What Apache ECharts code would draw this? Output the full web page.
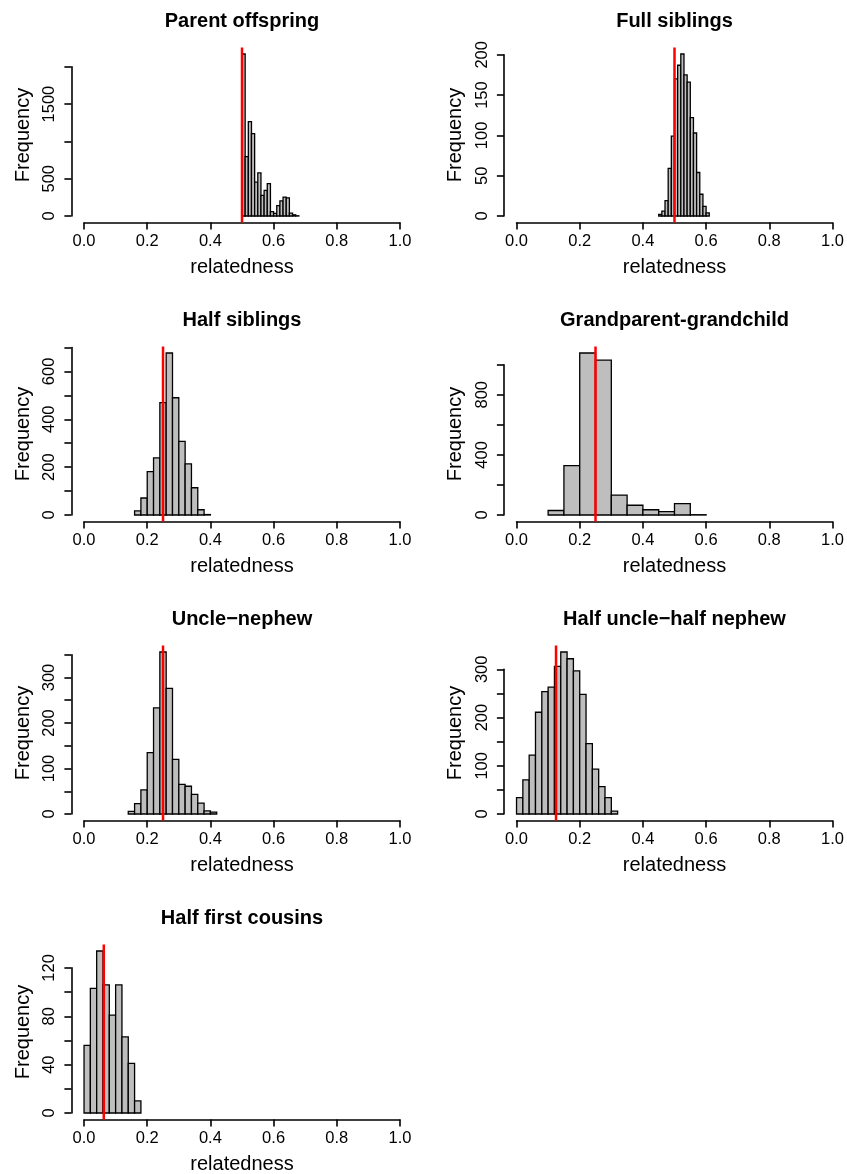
<!DOCTYPE html>
<html>
<head>
<meta charset="utf-8">
<script src="https://cdn.jsdelivr.net/npm/echarts@6/dist/echarts.min.js"></script>
<style>
  html, body { margin: 0; padding: 0; background: #ffffff; }
  #chart { width: 847px; height: 1174px; }
</style>
</head>
<body>
<div id="chart"></div>
<script>
// Simulated relatedness distributions per relationship class
const panelTitles = [
  'Parent offspring', 'Full siblings', 'Half siblings', 'Grandparent-grandchild',
  'Uncle\u2212nephew', 'Half uncle\u2212half nephew', 'Half first cousins'
];
const binStarts = [0.50, 0.45, 0.16, 0.10, 0.14, 0.00, 0.00];
const binWidths = [0.01, 0.01, 0.02, 0.05, 0.02, 0.02, 0.02];

const countsParentOffspring = [2172, 797, 1266, 1105, 453, 578, 277, 344, 433, 58, 36, 140, 204, 254, 243, 38, 16, 3];
const countsFullSiblings = [2, 6, 19, 59, 99, 170, 187, 201, 175, 166, 122, 103, 54, 27, 12, 4];
const countsHalfSiblings = [17, 71, 181, 239, 470, 677, 490, 308, 214, 114, 22, 2];
const countsGrandparent = [30, 329, 1078, 1030, 133, 65, 35, 23, 76, 2];
const countsUncleNephew = [6, 23, 53, 135, 233, 356, 276, 120, 65, 61, 43, 24, 7, 4];
const countsHalfUncle = [34, 71, 122, 211, 254, 263, 306, 336, 322, 297, 248, 146, 93, 57, 34, 6];
const countsHalfFirstCousins = [56, 103, 134, 106, 81, 106, 63, 41, 10];

// Expected relatedness for each class (vertical reference line)
const expectedRelatedness = [0.5, 0.5, 0.25, 0.25, 0.25, 0.125, 0.0625];

const xTickLabels = ['0.0', '0.2', '0.4', '0.6', '0.8', '1.0'];
const yTickSteps = [500, 50, 100, 200, 50, 50, 20];
const yTickMaxes = [2000, 200, 700, 1000, 350, 300, 120];
const yTickLabels = [
  [0, 500, 1500], [0, 50, 100, 150, 200], [0, 200, 400, 600], [0, 400, 800],
  [0, 100, 200, 300], [0, 100, 200, 300], [0, 40, 80, 120]
];

const allCounts = [countsParentOffspring, countsFullSiblings, countsHalfSiblings, countsGrandparent,
  countsUncleNephew, countsHalfUncle, countsHalfFirstCousins];

// layout of the 2-column panel grid
const FONT = 'Liberation Sans, Arial, Helvetica, sans-serif';
const colLeft = [71.4, 503.9];
const plotW = 341.2;
const firstTop = 47.5;
const rowStep = 299;
const plotH = 175;
const axisColor = '#000000';
const axisWidth = 1.6;

const grids = [], xAxes = [], yAxes = [], series = [], graphics = [];

allCounts.forEach(function (counts, i) {
  const col = i % 2, row = Math.floor(i / 2);
  const left = colLeft[col];
  const top = firstTop + row * rowStep;
  const m = Math.max.apply(null, counts);
  const ppu = plotH / (1.08 * m);
  const y0 = top + plotH - 0.04 * m * ppu;
  const yAxisTop = y0 - yTickMaxes[i] * ppu;

  const g0 = grids.length;
  // plotting region (x: -0.04..1.04, y: -4%..104% of max count)
  grids.push({ left: left, top: top, width: plotW, height: plotH, outerBoundsMode: 'none', containLabel: false });
  // x axis drawn over 0..1 only
  grids.push({ left: left + plotW * 0.04 / 1.08, top: top, width: plotW / 1.08, height: plotH, outerBoundsMode: 'none', containLabel: false });
  // y axis drawn over 0..last tick only
  grids.push({ left: left, top: yAxisTop, width: plotW, height: y0 - yAxisTop, outerBoundsMode: 'none', containLabel: false });

  const nameStyle = { fontSize: 20, color: '#000', fontFamily: FONT };
  const labelStyle = { fontSize: 16.5, color: '#000', fontFamily: FONT };

  xAxes.push({
    gridIndex: g0, type: 'value', min: -0.04, max: 1.04,
    axisLine: { show: false }, axisTick: { show: false }, axisLabel: { show: false }, splitLine: { show: false },
    name: 'relatedness', nameLocation: 'middle', nameGap: 35, nameTextStyle: nameStyle
  });
  xAxes.push({
    gridIndex: g0 + 1, type: 'value', min: 0, max: 1, interval: 0.2,
    axisLine: { show: true, lineStyle: { color: axisColor, width: axisWidth } },
    axisTick: { show: true, inside: false, length: 7, lineStyle: { color: axisColor, width: axisWidth } },
    axisLabel: Object.assign({ margin: 10, formatter: function (v) { return xTickLabels[Math.round(v / 0.2)]; } }, labelStyle),
    splitLine: { show: false }
  });
  xAxes.push({ gridIndex: g0 + 2, type: 'value', show: false, min: 0, max: 1 });

  yAxes.push({
    gridIndex: g0, type: 'value', min: -0.04 * m, max: 1.04 * m,
    axisLine: { show: false }, axisTick: { show: false }, axisLabel: { show: false }, splitLine: { show: false },
    name: 'Frequency', nameLocation: 'middle', nameGap: 38, nameTextStyle: nameStyle
  });
  yAxes.push({ gridIndex: g0 + 1, type: 'value', show: false, min: 0, max: 1 });
  yAxes.push({
    gridIndex: g0 + 2, type: 'value', min: 0, max: yTickMaxes[i], interval: yTickSteps[i],
    axisLine: { show: true, lineStyle: { color: axisColor, width: axisWidth } },
    axisTick: { show: true, inside: false, length: 7, lineStyle: { color: axisColor, width: axisWidth } },
    axisLabel: Object.assign({
      margin: 13, rotate: 90,
      formatter: function (v) { return yTickLabels[i].indexOf(v) >= 0 ? String(v) : ''; }
    }, labelStyle),
    splitLine: { show: false }
  });

  // histogram bins [left edge, right edge, count]
  const bins = counts.map(function (c, k) {
    const x0 = +(binStarts[i] + k * binWidths[i]).toFixed(4);
    const x1 = +(binStarts[i] + (k + 1) * binWidths[i]).toFixed(4);
    return [x0, x1, c];
  });

  series.push({
    type: 'custom', xAxisIndex: g0, yAxisIndex: g0, data: bins,
    encode: { x: [0, 1], y: 2 },
    clip: false,
    renderItem: function (params, api) {
      const p0 = api.coord([api.value(0), 0]);
      const p1 = api.coord([api.value(1), api.value(2)]);
      return {
        type: 'rect',
        shape: { x: p0[0], y: p1[1], width: p1[0] - p0[0], height: p0[1] - p1[1] },
        style: { fill: '#BEBEBE', stroke: '#000000', lineWidth: 1.3 }
      };
    },
    silent: true, z: 2
  });

  series.push({
    type: 'line', xAxisIndex: g0, yAxisIndex: g0,
    data: [[expectedRelatedness[i], -0.04 * m], [expectedRelatedness[i], 1.04 * m]],
    symbol: 'none', lineStyle: { color: '#FF0000', width: 2.5 }, silent: true, z: 5
  });

  graphics.push({
    type: 'text', x: left + plotW / 2, y: top - 26.5,
    style: {
      text: panelTitles[i], font: 'bold 20px ' + FONT, fill: '#000',
      align: 'center', verticalAlign: 'middle', textAlign: 'center', textVerticalAlign: 'middle'
    }
  });
});

const chart = echarts.init(document.getElementById('chart'), null, { renderer: 'canvas' });
chart.setOption({
  animation: false,
  backgroundColor: '#ffffff',
  grid: grids,
  xAxis: xAxes,
  yAxis: yAxes,
  series: series,
  graphic: graphics
});
</script>
</body>
</html>
